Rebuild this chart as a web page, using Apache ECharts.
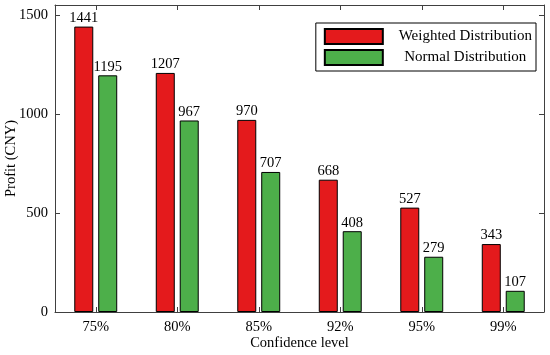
<!DOCTYPE html>
<html>
<head>
<meta charset="utf-8">
<script src="https://cdn.jsdelivr.net/npm/echarts@6/dist/echarts.min.js"></script>
<style>html,body{margin:0;padding:0;background:#fff}#c{width:550px;height:355px}</style>
</head>
<body>
<div id="c"></div>
<script>
const categories = ['75%', '80%', '85%', '92%', '95%', '99%'];
const weighted = [1441, 1207, 970, 668, 527, 343];
const normal = [1195, 967, 707, 408, 279, 107];
const seriesNames = ['Weighted Distribution', 'Normal Distribution'];
const yTicks = { min: 0, max: 1550, interval: 500 };

const FONT = '"Liberation Serif", "Times New Roman", serif';
const FS = 14.5;
const AX = '#404040';
const chart = echarts.init(document.getElementById('c'), null, { renderer: 'canvas' });

const labelStyle = { show: true, position: 'top', distance: 1, color: '#000', fontFamily: FONT, fontSize: FS };

chart.setOption({
  animation: false,
  textStyle: { fontFamily: FONT },
  grid: { left: 55, right: 6, top: 5, bottom: 43, containLabel: false, outerBoundsMode: 'none' },
  legend: {
    right: 14, top: 23,
    orient: 'vertical',
    icon: 'rect',
    itemWidth: 58, itemHeight: 15, itemGap: 4,
    borderColor: '#000', borderWidth: 1, borderRadius: 0,
    padding: [5, 4, 5, 8],
    data: seriesNames,
    formatter: n => '{t|' + n + '}',
    textStyle: {
      fontFamily: FONT, fontSize: 15, color: '#000',
      rich: { t: { width: 133, align: 'center', padding: [0, 0, 0, 11], fontFamily: FONT, fontSize: 15, color: '#000' } }
    }
  },
  xAxis: [{
    type: 'category', data: categories, position: 'bottom',
    name: 'Confidence level', nameLocation: 'middle', nameGap: 24, nameMoveOverlap: false,
    nameTextStyle: { fontFamily: FONT, fontSize: FS, color: '#000' },
    axisLine: { lineStyle: { color: AX, width: 1 } },
    axisTick: { show: true, inside: true, alignWithLabel: true, length: 5, lineStyle: { color: AX } },
    axisLabel: { fontFamily: FONT, fontSize: FS, color: '#000', margin: 8 },
    splitLine: { show: false }
  }, {
    type: 'category', data: categories, position: 'top',
    axisLine: { show: true, onZero: false, lineStyle: { color: AX, width: 1 } },
    axisTick: { show: true, inside: true, alignWithLabel: true, length: 5, lineStyle: { color: AX } },
    axisLabel: { show: false }
  }],
  yAxis: [{
    type: 'value', min: yTicks.min, max: yTicks.max, interval: yTicks.interval,
    name: 'Profit (CNY)', nameLocation: 'middle', nameGap: 36, nameMoveOverlap: false,
    nameTextStyle: { fontFamily: FONT, fontSize: FS, color: '#000' },
    axisLine: { show: true, lineStyle: { color: AX, width: 1 } },
    axisTick: { show: true, inside: true, length: 5, lineStyle: { color: AX } },
    axisLabel: { fontFamily: FONT, fontSize: FS, color: '#000', margin: 7, showMaxLabel: false, formatter: v => String(v) },
    splitLine: { show: false }
  }, {
    type: 'value', min: yTicks.min, max: yTicks.max, interval: yTicks.interval, position: 'right',
    axisLine: { show: true, onZero: false, lineStyle: { color: AX, width: 1 } },
    axisTick: { show: true, inside: true, length: 5, lineStyle: { color: AX } },
    axisLabel: { show: false },
    splitLine: { show: false }
  }],
  series: [{
    name: seriesNames[0], type: 'bar', data: weighted, barWidth: 19, barGap: '26%',
    itemStyle: { color: '#E41A1C', borderColor: '#000', borderWidth: 1 },
    label: labelStyle
  }, {
    name: seriesNames[1], type: 'bar', data: normal, barWidth: 19, barGap: '26%',
    itemStyle: { color: '#4DAF4A', borderColor: '#000', borderWidth: 1 },
    label: labelStyle
  }]
});
</script>
</body>
</html>
